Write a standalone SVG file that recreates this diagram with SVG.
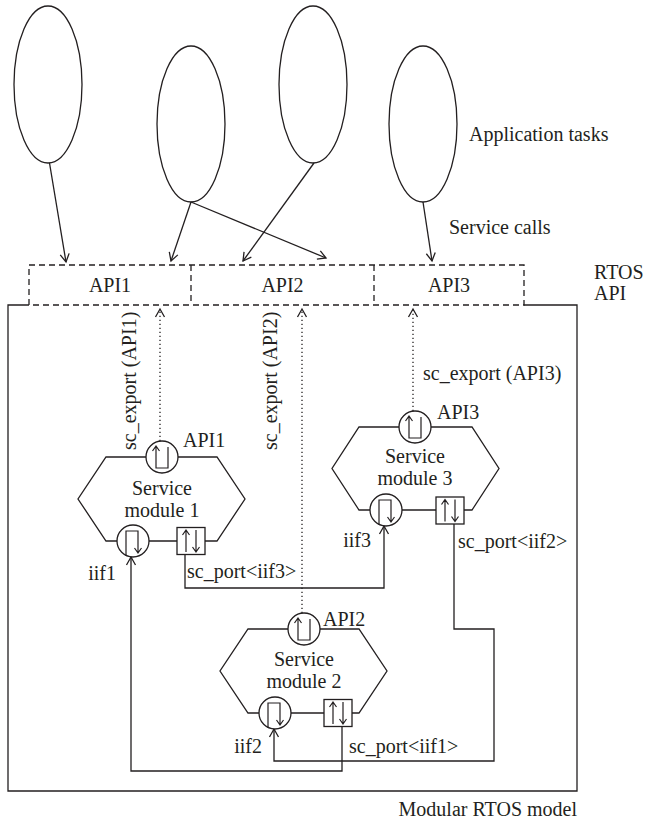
<svg xmlns="http://www.w3.org/2000/svg" xmlns:xlink="http://www.w3.org/1999/xlink" width="646" height="822" viewBox="0 0 646 822">
  <style>
    .ln { fill: none; stroke: #231f20; stroke-width: 1.3; }
    .dot { fill: none; stroke: #231f20; stroke-width: 1.3; stroke-dasharray: 1.2 2.8; }
    .dash { fill: #fff; stroke: #231f20; stroke-width: 1.3; stroke-dasharray: 6 4; }
    .shape { fill: #fff; stroke: #231f20; stroke-width: 1.3; }
    .gl { fill: none; stroke: #231f20; stroke-width: 1.2; }
    text { font-family: "Liberation Serif", "Times New Roman", serif; font-size: 20px; fill: #231f20; }
    .c { text-anchor: middle; }
    .e { text-anchor: end; }
  </style>
  <defs>
    <marker id="arr" markerUnits="userSpaceOnUse" viewBox="-10 -6 12 12" markerWidth="12" markerHeight="12" refX="0" refY="0" orient="auto">
      <path d="M-8,-4.5 L0,0 L-8,4.5" fill="none" stroke="#231f20" stroke-width="1.3"/>
    </marker>
    <!-- provided (exported) interface: circle with up-arrow glyph -->
    <g id="prov">
      <circle r="16" class="shape"/>
      <path class="gl" d="M-6,-11 V11 H6 V-10 M-9.5,-6 L-6,-11 L-2.5,-6"/>
    </g>
    <!-- input interface: circle with down-arrow glyph -->
    <g id="inif">
      <circle r="16" class="shape"/>
      <path class="gl" d="M-7,15 V-10 H5 V12 M1.5,7 L5,12 L8.5,7"/>
    </g>
    <!-- sc_port: square with up and down arrows -->
    <g id="port">
      <rect x="-14" y="-13.5" width="28" height="27" class="shape"/>
      <path class="gl" d="M-5,11 V-11 M-8.5,-6 L-5,-11 L-1.5,-6 M5,-11 V11 M1.5,6 L5,11 L8.5,6"/>
    </g>
  </defs>

  <rect width="646" height="822" fill="#fff"/>

  <!-- application tasks -->
  <g id="tasks">
    <ellipse class="ln" cx="48" cy="84.5" rx="34" ry="78.5"/>
    <ellipse class="ln" cx="191" cy="124" rx="34" ry="78"/>
    <ellipse class="ln" cx="313" cy="84.5" rx="34" ry="78.5"/>
    <ellipse class="ln" cx="423" cy="124" rx="34" ry="78"/>
    <text x="469" y="141">Application tasks</text>
    <text x="449" y="234">Service calls</text>
  </g>

  <!-- modular RTOS model frame -->
  <g id="rtos-model">
    <path class="ln" d="M29,305 H8 V791 H577 V305 H524"/>
    <text x="577" y="816" class="e">Modular RTOS model</text>
  </g>

  <!-- RTOS API bar -->
  <g id="rtos-api">
    <rect class="dash" x="29" y="265" width="495" height="40"/>
    <path class="dash" d="M191,265 V305 M374,265 V305"/>
    <text x="110" y="292" class="c">API1</text>
    <text x="282.5" y="292" class="c">API2</text>
    <text x="449" y="292" class="c">API3</text>
    <text x="594" y="279">RTOS</text>
    <text x="594" y="300">API</text>
  </g>

  <!-- connectors -->
  <g id="connectors">
    <!-- service calls -->
    <path class="ln" d="M49.5,163 L66,262" marker-end="url(#arr)"/>
    <path class="ln" d="M191,202 L171,261" marker-end="url(#arr)"/>
    <path class="ln" d="M191,202 L326,258" marker-end="url(#arr)"/>
    <path class="ln" d="M314,163 L243,261" marker-end="url(#arr)"/>
    <path class="ln" d="M423,202 L432,261" marker-end="url(#arr)"/>
    <!-- sc_export bindings -->
    <path class="dot" d="M160,441 V309" marker-end="url(#arr)"/>
    <path class="dot" d="M302,613 V309" marker-end="url(#arr)"/>
    <path class="dot" d="M413,411 V309" marker-end="url(#arr)"/>
    <!-- sc_port bindings -->
    <path class="ln" d="M185,555 V588 H384 V526" marker-end="url(#arr)"/>
    <path class="ln" d="M454,524 V629 H494 V761 H274 V729" marker-end="url(#arr)"/>
    <path class="ln" d="M342,727 V771 H131 V557" marker-end="url(#arr)"/>
  </g>

  <!-- service module 1 -->
  <g id="module1">
    <polygon class="shape" points="106,457 217,457 245,499 217,541 106,541 78,499"/>
    <use xlink:href="#prov" transform="translate(162,457)"/>
    <use xlink:href="#inif" transform="translate(133,541)"/>
    <use xlink:href="#port" transform="translate(191,541)"/>
    <text x="162" y="495" class="c">Service</text>
    <text x="162" y="517" class="c">module 1</text>
    <text x="183" y="447">API1</text>
    <text x="116" y="580" class="e">iif1</text>
    <text x="187" y="578">sc_port&lt;iif3&gt;</text>
    <text transform="translate(136,450) rotate(-90)">sc_export (API1)</text>
  </g>

  <!-- service module 3 -->
  <g id="module3">
    <polygon class="shape" points="359,427 472,427 499,468.5 472,510 359,510 332,468.5"/>
    <use xlink:href="#prov" transform="translate(415,427)"/>
    <use xlink:href="#inif" transform="translate(386,510)"/>
    <use xlink:href="#port" transform="translate(450,510.5)"/>
    <text x="415" y="463" class="c">Service</text>
    <text x="415" y="485" class="c">module 3</text>
    <text x="437" y="419">API3</text>
    <text x="371" y="547" class="e">iif3</text>
    <text x="458" y="548">sc_port&lt;iif2&gt;</text>
    <text x="423" y="380">sc_export (API3)</text>
  </g>

  <!-- service module 2 -->
  <g id="module2">
    <polygon class="shape" points="248,629 359,629 387,671 359,713 248,713 220,671"/>
    <use xlink:href="#prov" transform="translate(304,629)"/>
    <use xlink:href="#inif" transform="translate(275,713)"/>
    <use xlink:href="#port" transform="translate(338,713)"/>
    <text x="304" y="666" class="c">Service</text>
    <text x="304" y="688" class="c">module 2</text>
    <text x="323" y="626">API2</text>
    <text x="262" y="753" class="e">iif2</text>
    <text x="349" y="753">sc_port&lt;iif1&gt;</text>
    <text transform="translate(277,450) rotate(-90)">sc_export (API2)</text>
  </g>
</svg>
